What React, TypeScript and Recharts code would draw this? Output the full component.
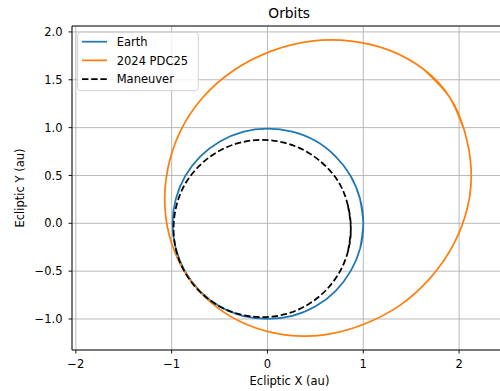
import { ScatterChart, Scatter, XAxis, YAxis, CartesianGrid, ReferenceLine } from "recharts";

// orbit points, [x, y] in au, going round counter-clockwise
const earthOrbit = [
  [1.0, 0.0], [0.965, 0.26], [0.865, 0.5], [0.705, 0.705], [0.5, 0.862], [0.258, 0.958],
  [0.0, 0.99], [-0.256, 0.956], [-0.496, 0.856], [-0.7, 0.7], [-0.858, 0.494], [-0.956, 0.256],
  [-0.99, 0.0], [-0.958, -0.258], [-0.862, -0.5], [-0.705, -0.708], [-0.5, -0.868], [-0.258, -0.968],
  [0.0, -1.0], [0.26, -0.968], [0.502, -0.868], [0.71, -0.708], [0.868, -0.5], [0.968, -0.26],
];

const pdc25Orbit = [
  [1.9, 1.32], [1.63, 1.61], [1.27, 1.81], [0.875, 1.905], [0.46, 1.905], [0.04, 1.8],
  [-0.35, 1.6], [-0.68, 1.31], [-0.91, 0.96], [-1.04, 0.57], [-1.07, 0.165], [-0.995, -0.225],
  [-0.82, -0.575], [-0.55, -0.86], [-0.21, -1.06], [0.18, -1.165], [0.595, -1.165], [1.005, -1.055],
  [1.385, -0.855], [1.705, -0.565], [1.945, -0.215], [2.09, 0.175], [2.125, 0.575], [2.055, 0.97],
];

const maneuverOrbit = [
  [0.87, -0.055], [0.84, 0.185], [0.755, 0.41], [0.605, 0.6], [0.41, 0.748], [0.185, 0.84],
  [-0.055, 0.872], [-0.295, 0.84], [-0.52, 0.748], [-0.712, 0.6], [-0.86, 0.41], [-0.95, 0.185],
  [-0.98, -0.055], [-0.95, -0.295], [-0.858, -0.518], [-0.71, -0.71], [-0.518, -0.858], [-0.295, -0.95],
  [-0.055, -0.98], [0.185, -0.95], [0.408, -0.858], [0.6, -0.71], [0.748, -0.518], [0.84, -0.295],
];

const seriesNames = ["Earth", "2024 PDC25", "Maneuver"];
const xTicks = [-2, -1, 0, 1, 2];
const yTicks = [-1, -0.5, 0, 0.5, 1, 1.5, 2];
const xDomain = [-2.04, 2.5];
const yDomain = [-1.324, 2.062];

const colors = ["#1f77b4", "#ff7f0e", "#000000"];
const dashes = [undefined, undefined, "6.4 2.8"];
const font = "DejaVu Sans, sans-serif";

// repeat one point at each end so the smooth curve closes without a kink
const loop = (pts: number[][]) =>
  [pts[pts.length - 1], ...pts, pts[0], pts[1]].map(([x, y]) => ({ x, y }));

const minus = (s: string) => s.replace("-", "\u2212");

function Orbits() {
  const orbits = [earthOrbit, pdc25Orbit, maneuverOrbit];
  return (
    <div style={{ position: "absolute", left: 0, top: 0, width: 500, height: 391, overflow: "hidden", background: "#fff" }}>
      <ScatterChart width={507} height={391} margin={{ top: 26, right: 0, bottom: 0, left: 0 }}>
        <CartesianGrid stroke="#b0b0b0" strokeWidth={0.9} />
        <XAxis
          type="number"
          dataKey="x"
          domain={xDomain}
          allowDataOverflow
          ticks={xTicks}
          interval={0}
          height={41}
          tickSize={3.5}
          tickMargin={6}
          tickFormatter={(v) => minus(String(v))}
          axisLine={{ stroke: "#000", strokeWidth: 0.9 }}
          tickLine={{ stroke: "#000", strokeWidth: 0.9 }}
          tick={{ fill: "#000", fontSize: 11.5, fontFamily: font }}
          label={{ value: "Ecliptic X (au)", position: "insideBottom", offset: 6.5, fill: "#000", fontSize: 11.5, fontFamily: font }}
        />
        <YAxis
          type="number"
          dataKey="y"
          domain={yDomain}
          allowDataOverflow
          ticks={yTicks}
          interval={0}
          width={72}
          tickSize={3.5}
          tickMargin={6}
          tickFormatter={(v) => minus(v.toFixed(1))}
          axisLine={{ stroke: "#000", strokeWidth: 0.9 }}
          tickLine={{ stroke: "#000", strokeWidth: 0.9 }}
          tick={{ fill: "#000", fontSize: 11.5, fontFamily: font }}
          label={{
            value: "Ecliptic Y (au)",
            angle: -90,
            position: "insideLeft",
            offset: 20,
            style: { textAnchor: "middle" },
            fill: "#000",
            fontSize: 11.5,
            fontFamily: font,
          }}
        />
        <ReferenceLine y={yDomain[1]} stroke="#000" strokeWidth={0.9} />
        {orbits.map((pts, i) => (
          <Scatter
            key={seriesNames[i]}
            name={seriesNames[i]}
            data={loop(pts)}
            fill={colors[i]}
            line={{ stroke: colors[i], strokeWidth: 1.75, strokeDasharray: dashes[i] }}
            lineJointType="natural"
            shape={() => null}
            isAnimationActive={false}
          />
        ))}
      </ScatterChart>
      <svg width={500} height={391} style={{ position: "absolute", left: 0, top: 0, pointerEvents: "none" }}>
        <text x={289.2} y={18.3} textAnchor="middle" fontSize={13.8} fontFamily={font} fill="#000">
          Orbits
        </text>
        <rect x={77.7} y={32.3} width={120.6} height={58.4} rx={3} fill="#fff" fillOpacity={0.8} stroke="#cccccc" strokeWidth={0.9} />
        {seriesNames.map((name, i) => (
          <g key={name}>
            <line x1={82} x2={107} y1={41.7 + i * 18.65} y2={41.7 + i * 18.65} stroke={colors[i]} strokeWidth={1.75} strokeDasharray={dashes[i]} />
            <text x={116.7} y={46 + i * 18.65} fontSize={11.5} fontFamily={font} fill="#000">
              {name}
            </text>
          </g>
        ))}
      </svg>
    </div>
  );
}

export default function App() {
  return <Orbits />;
}
